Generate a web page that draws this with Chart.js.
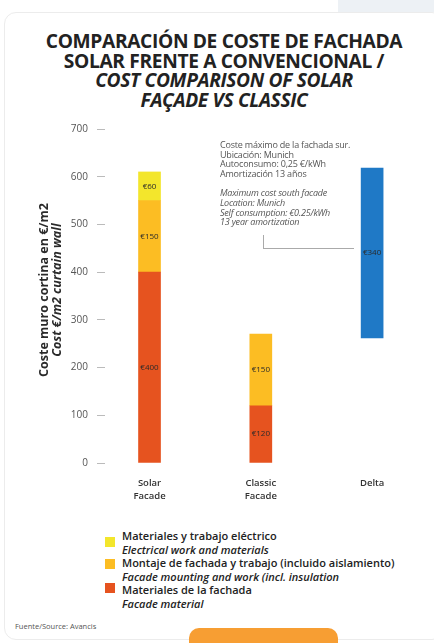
<!DOCTYPE html>
<html>
<head>
<meta charset="utf-8">
<script src="https://cdn.jsdelivr.net/npm/chart.js@4"></script>
<style>
  html, body { margin: 0; padding: 0; background: #fff; }
  body { width: 434px; height: 643px; position: relative; overflow: hidden; font-family: "Open Sans", sans-serif; }
  .topbar { position: absolute; left: 338px; top: 0; width: 96px; height: 12px; background: #edf1f5; }
  .card { position: absolute; left: 4px; top: 12px; width: 440px; height: 628px; border: 1px solid #ececec; border-radius: 12px; background: #fff; box-sizing: border-box; }
  h1 { position: absolute; left: 0; top: 31px; width: 448px; margin: 0; text-align: center; font-size: 19.2px; line-height: 19.7px; font-weight: 700; color: #222; letter-spacing: -0.35px; }
  h1 i { font-style: italic; }
  #wrap { position: absolute; left: 0; top: 110px; width: 434px; height: 400px; }
  .note { position: absolute; left: 220px; top: 140px; font-size: 9px; line-height: 9.6px; color: #555; white-space: nowrap; letter-spacing: -0.2px; }
  .note i { display: block; margin-top: 10px; }
  .conn { position: absolute; left: 263px; top: 235px; width: 90px; height: 13px; border-left: 1px solid #aaa; border-bottom: 1px solid #aaa; }
  .legend { position: absolute; left: 105px; top: 529px; font-size: 11px; line-height: 13.5px; color: #222; font-weight: 600; }
  .legend .row { position: relative; padding-left: 17px; }
  .legend .sw { position: absolute; left: 0; top: 5px; width: 10px; height: 10px; }
  .legend i { display: block; }
  .source { position: absolute; left: 15px; top: 621px; font-size: 7.5px; color: #555; }
  .btn { position: absolute; left: 189px; top: 628px; width: 149px; height: 30px; background: #f79e33; border-radius: 10px; }
</style>
</head>
<body>
<div class="topbar"></div>
<div class="card"></div>
<h1>COMPARACIÓN DE COSTE DE FACHADA<br>SOLAR FRENTE A CONVENCIONAL /<br><i>COST COMPARISON OF SOLAR<br>FAÇADE VS CLASSIC</i></h1>
<div id="wrap"><canvas id="myChart"></canvas></div>
<div class="note">Coste máximo de la fachada sur.<br>Ubicación: Munich<br>Autoconsumo: 0,25 €/kWh<br>Amortización 13 años<i>Maximum cost south facade<br>Location: Munich<br>Self consumption: €0.25/kWh<br>13 year amortization</i></div>
<div class="conn"></div>
<div class="legend">
  <div class="row"><span class="sw" style="background:#f3e62c;top:8px"></span>Materiales y trabajo eléctrico<i>Electrical work and materials</i></div>
  <div class="row"><span class="sw" style="background:#fcbd23;top:3px"></span>Montaje de fachada y trabajo (incluido aislamiento)<i>Facade mounting and work (incl. insulation</i></div>
  <div class="row"><span class="sw" style="background:#e6531f;top:0px"></span>Materiales de la fachada<i>Facade material</i></div>
</div>
<div class="source">Fuente/Source: Avancis</div>
<div class="btn"></div>
<script>
const categories = [['Solar', 'Facade'], ['Classic', 'Facade'], ['Delta']];
const facadeMaterial = [400, 120, null];
const mountingWork = [150, 150, null];
const electricalWork = [60, null, null];
const deltaRange = [null, null, [262, 618]];
const deltaLabel = '€340';
const yTicks = [0, 100, 200, 300, 400, 500, 600, 700];

const points = arr => arr.map((v, i) => ({ x: i, y: v })).filter(p => p.y !== null);

// euro amounts written in the middle of each bar segment
const barLabels = {
  id: 'barLabels',
  afterDatasetsDraw(chart) {
    const ctx = chart.ctx;
    ctx.save();
    ctx.font = '8px "Open Sans"';
    ctx.fillStyle = '#2a2a2a';
    ctx.textAlign = 'center';
    ctx.textBaseline = 'middle';
    chart.data.datasets.forEach((ds, di) => {
      chart.getDatasetMeta(di).data.forEach((bar, j) => {
        const p = ds.data[j];
        const txt = Array.isArray(p.y) ? deltaLabel : '€' + p.y;
        ctx.fillText(txt, bar.x, (bar.y + bar.base) / 2);
      });
    });
    ctx.restore();
  }
};

// two-line axis title, second line italic
const yTitle = {
  id: 'yTitle',
  afterDraw(chart) {
    const ctx = chart.ctx;
    ctx.save();
    ctx.translate(44, 180);
    ctx.rotate(-Math.PI / 2);
    ctx.textAlign = 'center';
    ctx.textBaseline = 'middle';
    ctx.fillStyle = '#2a2a2a';
    ctx.font = 'bold 12.5px "Open Sans"';
    ctx.fillText('Coste muro cortina en €/m2', 0, 0);
    ctx.font = 'italic bold 12.5px "Open Sans"';
    ctx.fillText('Cost €/m2 curtain wall', 0, 13);
    ctx.restore();
  }
};

new Chart(document.getElementById('myChart'), {
  type: 'bar',
  data: {
    datasets: [
      { label: 'Materiales de la fachada', data: points(facadeMaterial), backgroundColor: '#e6531f' },
      { label: 'Montaje de fachada y trabajo', data: points(mountingWork), backgroundColor: '#fcbd23' },
      { label: 'Materiales y trabajo eléctrico', data: points(electricalWork), backgroundColor: '#f3e62c' },
      { label: 'Delta', data: points(deltaRange), backgroundColor: '#1f79c6' }
    ]
  },
  options: {
    responsive: true,
    maintainAspectRatio: false,
    animation: false,
    barThickness: 22,
    layout: { padding: { top: 19, right: 4, left: 0, bottom: 0 } },
    plugins: { legend: { display: false }, tooltip: { enabled: false } },
    scales: {
      x: {
        type: 'linear',
        offset: false,
        stacked: true,
        min: -0.4,
        max: 2.52,
        afterFit: s => { s.height = 47; },
        afterBuildTicks: s => { s.ticks = categories.map((c, i) => ({ value: i })); },
        grid: { display: false },
        border: { display: false },
        ticks: {
          padding: 5,
          color: '#333',
          font: { family: 'Open Sans', size: 9.5, weight: '600', lineHeight: 1.45 },
          callback: v => categories[v]
        }
      },
      y: {
        stacked: true,
        min: 0,
        max: 700,
        afterFit: s => { s.width = 105; },
        afterBuildTicks: s => { s.ticks = yTicks.map(v => ({ value: v })); },
        grid: { drawOnChartArea: false, drawTicks: true, tickLength: 8, tickColor: '#bbb' },
        border: { display: false },
        ticks: { padding: 9, color: '#555', font: { family: 'Open Sans', size: 10 } }
      }
    }
  },
  plugins: [barLabels, yTitle]
});
</script>
</body>
</html>
